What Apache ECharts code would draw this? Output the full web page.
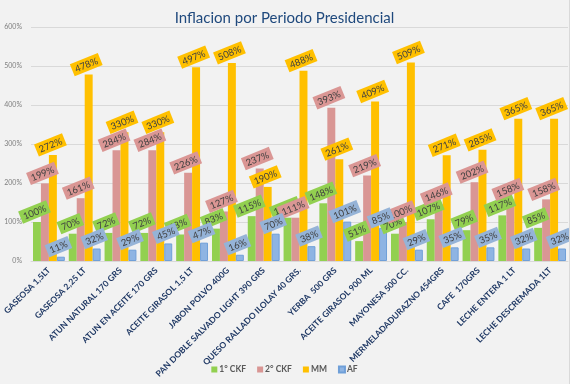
<!DOCTYPE html>
<html>
<head>
<meta charset="utf-8">
<script src="https://cdn.jsdelivr.net/npm/echarts@6/dist/echarts.min.js"></script>
<style>
html,body{margin:0;padding:0;background:#f2f2f2;}
#c{width:569px;height:384px;border-right:1px solid #d9d9d9;}
</style>
</head>
<body>
<div id="c"></div>
<script>
const categories = ["GASEOSA 1,5LT","GASEOSA 2,25 LT","ATUN NATURAL 170 GRS","ATUN EN ACEITE 170 GRS","ACEITE GIRASOL 1,5 LT","JABON POLVO 400G","PAN DOBLE SALVADO LIGHT 390 GRS","QUESO RALLADO ILOLAY 40 GRS.","YERBA  500 GRS","ACEITE GIRASOL 900 ML","MAYONESA 500 CC.","MERMELADADURAZNO 454GRS","CAFE  170GRS","LECHE ENTERA 1 LT","LECHE DESCREMADA 1LT"];
const ckf1 = [100,70,72,72,68,83,115,111,148,51,70,107,79,117,85];
const ckf2 = [199,161,284,284,226,127,237,111,393,219,100,146,202,158,158];
const mm   = [272,478,330,330,497,508,190,488,261,409,509,271,285,365,365];
const af   = [11,32,29,45,47,16,70,38,101,85,29,35,35,32,32];
const seriesNames = ["1° CKF","2° CKF","MM","AF"];
const yTicks = [0,100,200,300,400,500,600];

const colors = ['#92D050','#D99694','#FFC000','#8EB4E3'];
const labelBg = ['#92D050','#DA9694','#FFC000','#95B3D7'];
const dataSets = [ckf1, ckf2, mm, af];

const chart = echarts.init(document.getElementById('c'));
chart.setOption({
  backgroundColor:'#f2f2f2',
  animation:false,
  title:{text:'Inflacion por Periodo Presidencial', left:'center', top:6,
    textStyle:{fontFamily:'Lato', fontSize:15, fontWeight:'normal', color:'#1F497D'}},
  legend:{data:seriesNames, bottom:5, left:'center', itemWidth:6, itemHeight:6, itemGap:11, icon:'rect',
    textStyle:{fontFamily:'Lato', fontSize:8.5, fontWeight:'bold', color:'#595959', padding:[0,0,0,-3]}},
  grid:{left:31, right:1, top:27, bottom:123, containLabel:false},
  xAxis:{type:'category', data:categories,
    axisLine:{show:true, lineStyle:{color:'#d9d9d9'}}, axisTick:{show:false},
    axisLabel:{rotate:45, interval:0, margin:8, fontFamily:'Lato', fontSize:8.5, fontWeight:'bold', color:'#1F3864'}},
  yAxis:{type:'value', min:yTicks[0], max:yTicks[yTicks.length-1], interval:100,
    axisLine:{show:false}, axisTick:{show:false},
    axisLabel:{formatter:'{value}%', fontFamily:'Lato', fontSize:7, color:'#7f7f7f', margin:9},
    splitLine:{lineStyle:{color:'#d9d9d9'}}},
  series: dataSets.map((d,i)=>({
    name:seriesNames[i], type:'bar', data:d, barGap:'0%', barCategoryGap:'11%',
    itemStyle:{color:colors[i], borderColor: i===3 ? '#6f9fd8' : null, borderWidth: i===3 ? 1 : 0},
    label:{show:true, position:'top', distance:4, rotate:22, formatter:'{c}%',
      fontFamily:'Lato', fontSize:9.5, color:'#404040', backgroundColor:labelBg[i], padding:[2,3,1,3]}
  }))
});
</script>
</body>
</html>
